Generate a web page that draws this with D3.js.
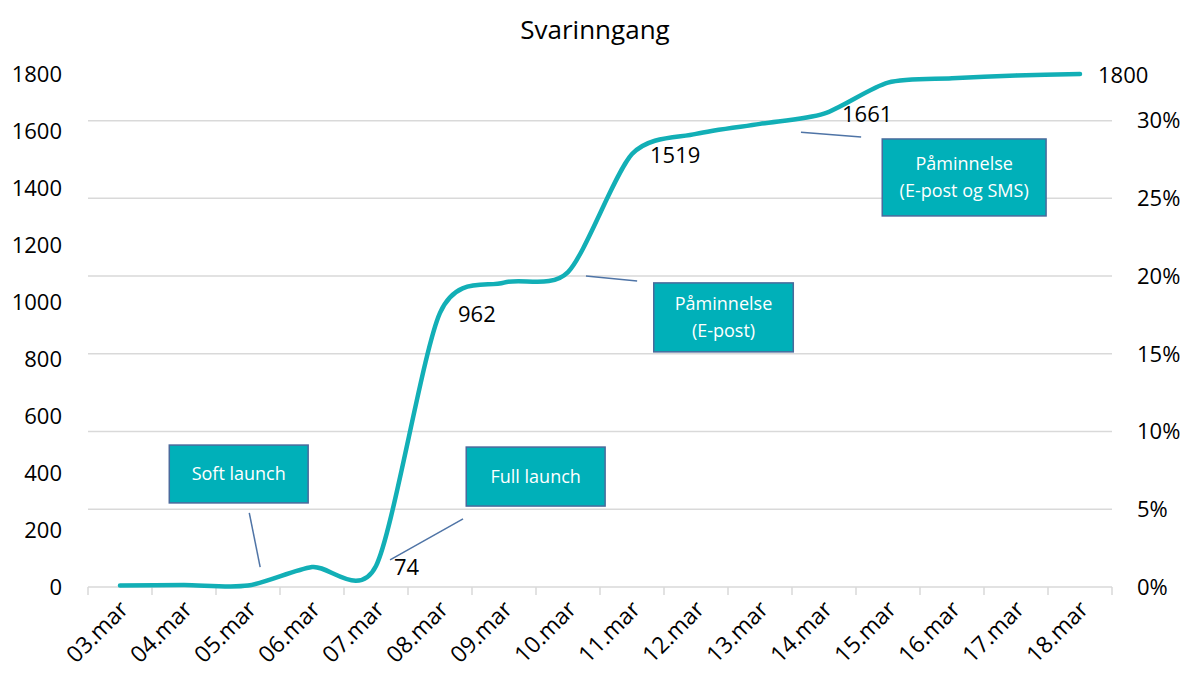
<!DOCTYPE html>
<meta charset="utf-8">
<head>
	<title>Svarinngang</title>
</head>
<style>
	body { margin: 0; background: #fff; }
	text { font-family: "Open Sans", "Noto Sans", sans-serif; fill: #000; }
</style>
<body>
	<svg width="1185" height="675"></svg>
	<script src="https://cdnjs.cloudflare.com/ajax/libs/d3/7.8.5/d3.min.js"></script>
	<script>

		var days = ["03.mar", "04.mar", "05.mar", "06.mar", "07.mar", "08.mar", "09.mar", "10.mar",
			"11.mar", "12.mar", "13.mar", "14.mar", "15.mar", "16.mar", "17.mar", "18.mar"];
		var answers = [5, 7, 5, 70, 74, 962, 1068, 1105, 1519, 1590, 1625, 1661, 1770, 1785, 1795, 1800];
		// which points get a data label
		var labelled = ["07.mar", "08.mar", "11.mar", "14.mar", "18.mar"];
		var leftTicks = [0, 200, 400, 600, 800, 1000, 1200, 1400, 1600, 1800];
		var rightTicks = [0, 0.05, 0.10, 0.15, 0.20, 0.25, 0.30];

		// annotation boxes, in category units (x) and answer units (y)
		var notes = [
			{text: ["Soft launch"], x0: 1.27, x1: 3.44, top: 498, bottom: 295, from: [2.52, 260], to: [2.69, 70]},
			{text: ["Full launch"], x0: 5.91, x1: 8.08, top: 491, bottom: 284, from: [4.72, 95], to: [5.86, 239]},
			{text: ["Påminnelse", "(E-post)"], x0: 8.84, x1: 11.02, top: 1067, bottom: 825, from: [7.78, 1091], to: [8.58, 1074]},
			{text: ["Påminnelse", "(E-post og SMS)"], x0: 12.41, x1: 14.97, top: 1572, bottom: 1302, from: [11.14, 1596], to: [12.08, 1579]}
		];

		var svg = d3.select("svg"),
			margin = {top: 74, right: 73, bottom: 88, left: 88},
			width = svg.attr("width") - margin.left - margin.right,
			height = svg.attr("height") - margin.top - margin.bottom;

		var teal = "#12AFB6",
			boxBlue = "#4A6A9C",
			grid = "#D9D9D9";

		var g = svg.append("g")
			.attr("transform", "translate(" + margin.left + "," + margin.top + ")");

		var x = d3.scaleBand()
			.domain(days)
			.range([0, width]);

		var xu = d3.scaleLinear()
			.domain([0, days.length])
			.range([0, width]);

		var y = d3.scaleLinear()
			.domain([0, 1800])
			.range([height, 0]);

		var yr = d3.scaleLinear()
			.domain([0, 0.33])
			.range([height, 0]);

		// title
		svg.append("text")
			.attr("x", 595)
			.attr("y", 30)
			.attr("dy", "0.35em")
			.attr("text-anchor", "middle")
			.style("font-size", "26px")
			.text("Svarinngang");

		// horizontal gridlines follow the percent axis
		g.selectAll(".grid")
			.data(rightTicks.slice(1))
			.enter().append("line")
			.attr("x1", 0)
			.attr("x2", width)
			.attr("y1", function(d) { return yr(d); })
			.attr("y2", function(d) { return yr(d); })
			.attr("stroke", grid)
			.attr("stroke-width", 1.5);

		// x axis
		var xAxis = g.append("g")
			.attr("transform", "translate(0," + height + ")");
		xAxis.append("line")
			.attr("x1", 0).attr("x2", width)
			.attr("stroke", grid)
			.attr("stroke-width", 1.5);
		xAxis.selectAll(".tick")
			.data(d3.range(days.length + 1))
			.enter().append("line")
			.attr("x1", function(d) { return xu(d); })
			.attr("x2", function(d) { return xu(d); })
			.attr("y1", 0)
			.attr("y2", 8)
			.attr("stroke", grid)
			.attr("stroke-width", 1.5);
		xAxis.selectAll(".label")
			.data(days)
			.enter().append("text")
			.attr("transform", function(d) {
				return "translate(" + (x(d) + x.bandwidth() / 2 + 4) + ",18) rotate(-45)";
			})
			.attr("text-anchor", "end")
			.attr("dy", "0.35em")
			.style("font-size", "23px")
			.text(function(d) { return d; });

		// left axis labels
		g.append("g").selectAll("text")
			.data(leftTicks)
			.enter().append("text")
			.attr("x", -26)
			.attr("y", function(d) { return y(d); })
			.attr("dy", "0.35em")
			.attr("text-anchor", "end")
			.style("font-size", "22px")
			.text(function(d) { return d; });

		// right axis labels
		g.append("g").selectAll("text")
			.data(rightTicks)
			.enter().append("text")
			.attr("x", width + 25)
			.attr("y", function(d) { return yr(d); })
			.attr("dy", "0.35em")
			.style("font-size", "22px")
			.text(d3.format(".0%"));

		// the line, smoothed like the spreadsheet does it
		var line = d3.line()
			.x(function(d, i) { return x(days[i]) + x.bandwidth() / 2; })
			.y(function(d) { return y(d); })
			.curve(d3.curveCardinal.tension(0.2));

		g.append("path")
			.datum(answers)
			.attr("d", line)
			.attr("fill", "none")
			.attr("stroke", teal)
			.attr("stroke-width", 4.5)
			.attr("stroke-linecap", "round");

		// data labels to the right of their points
		g.selectAll(".dlabel")
			.data(labelled)
			.enter().append("text")
			.attr("x", function(d) { return x(d) + x.bandwidth() / 2 + 18; })
			.attr("y", function(d) { return y(answers[days.indexOf(d)]) + 1; })
			.attr("dy", "0.35em")
			.style("font-size", "22px")
			.text(function(d) { return answers[days.indexOf(d)]; });

		// leader lines
		g.selectAll(".leader")
			.data(notes)
			.enter().append("line")
			.attr("x1", function(d) { return xu(d.from[0]); })
			.attr("y1", function(d) { return y(d.from[1]); })
			.attr("x2", function(d) { return xu(d.to[0]); })
			.attr("y2", function(d) { return y(d.to[1]); })
			.attr("stroke", "#4F74A6")
			.attr("stroke-width", 1.5);

		// annotation boxes
		var note = g.selectAll(".note")
			.data(notes)
			.enter().append("g");

		note.append("rect")
			.attr("x", function(d) { return xu(d.x0); })
			.attr("y", function(d) { return y(d.top); })
			.attr("width", function(d) { return xu(d.x1) - xu(d.x0); })
			.attr("height", function(d) { return y(d.bottom) - y(d.top); })
			.attr("fill", "#00B0B9")
			.attr("stroke", boxBlue)
			.attr("stroke-width", 1.5);

		note.each(function(d) {
			var cx = (xu(d.x0) + xu(d.x1)) / 2,
				cy = (y(d.top) + y(d.bottom)) / 2,
				n = d.text.length;
			d3.select(this).selectAll("text")
				.data(d.text)
				.enter().append("text")
				.attr("x", cx)
				.attr("y", function(t, i) { return cy + (i - (n - 1) / 2) * 27; })
				.attr("dy", "0.35em")
				.attr("text-anchor", "middle")
				.style("font-size", "18px")
				.style("fill", "#fff")
				.text(function(t) { return t; });
		});

	</script>
</body>
</html>
